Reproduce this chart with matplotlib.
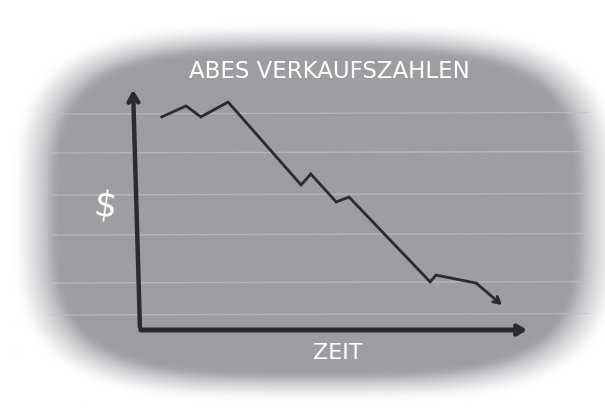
import numpy as np
import matplotlib
matplotlib.use("Agg")
import matplotlib.pyplot as plt

# ---- data (time units 0..10, sales units 0..10) ----
zeit = [0.56, 1.18, 1.56, 2.26, 4.13, 4.38, 5.03, 5.36, 7.44, 7.59, 8.62, 9.28]
umsatz = [8.77, 9.22, 8.77, 9.38, 5.97, 6.42, 5.27, 5.47, 1.98, 2.26, 1.93, 1.03]
title = "ABES VERKAUFSZAHLEN"
xlabel = "ZEIT"
ylabel = "$"
paper_lines_px = [114, 153, 195, 235, 283, 315]

W, H = 605, 408
fig = plt.figure(figsize=(W / 100, H / 100), dpi=100)

# ---- background (chalkboard blob) ----
yy, xx = np.mgrid[0:H, 0:W].astype(float)
cx, cy, a, b, p = 316.0, 212.0, 268.0, 166.0, 3.6
d = ((np.abs(xx - cx) / a) ** p + (np.abs(yy - cy) / b) ** p) ** (1 / p)
inner = np.array([157, 158, 162]) / 255.0
halo = np.array([200, 201, 204]) / 255.0
white = np.array([1.0, 1.0, 1.0])
t1 = np.clip((d - 0.97) / 0.05, 0, 1)[..., None]
col = inner * (1 - t1) + halo * t1
t2 = np.clip((d - 1.02) / 0.10, 0, 1)[..., None]
col = col * (1 - t2) + white * t2
# soften with a box blur
k = 5
pad = np.pad(col, ((k, k), (k, k), (0, 0)), mode="edge")
cs = pad.cumsum(0).cumsum(1)
cs = np.pad(cs, ((1, 0), (1, 0), (0, 0)))
n = 2 * k + 1
blur = (cs[n:, n:] - cs[:-n, n:] - cs[n:, :-n] + cs[:-n, :-n]) / (n * n)
blur = blur[:H, :W]

ax_bg = fig.add_axes([0, 0, 1, 1])
ax_bg.imshow(np.clip(blur, 0, 1), extent=[0, W, H, 0], interpolation="bilinear")
for yp in paper_lines_px:
    ax_bg.plot([52, 588], [yp, yp - 1.5], color="#bfc0c4", lw=1.0, alpha=0.7)
ax_bg.set_xlim(0, W)
ax_bg.set_ylim(H, 0)
ax_bg.axis("off")

# ---- chart axes ----
ax = fig.add_axes([140 / W, 78 / H, 390 / W, 243 / H])
ax.patch.set_alpha(0)
ax.set_xlim(0, 10)
ax.set_ylim(0, 10)
ax.axis("off")

ink = "#2b2b2d"
ax.annotate("", xy=(-0.18, 10.0), xytext=(0.0, 0.0),
            arrowprops=dict(arrowstyle="->,head_length=0.6,head_width=0.35",
                            color=ink, lw=3.2), annotation_clip=False)
ax.annotate("", xy=(10.0, 0.0), xytext=(-0.05, 0.0),
            arrowprops=dict(arrowstyle="->,head_length=0.5,head_width=0.3",
                            color=ink, lw=3.6), annotation_clip=False)

ax.plot(zeit[:-1], umsatz[:-1], color=ink, lw=2.0, solid_joinstyle="miter")
ax.annotate("", xy=(zeit[-1], umsatz[-1]), xytext=(zeit[-2], umsatz[-2]),
            arrowprops=dict(arrowstyle="->,head_length=0.45,head_width=0.25",
                            color=ink, lw=2.0, shrinkA=0, shrinkB=0))

# ---- texts ----
fig.text(329 / W, 1 - 72 / H, title, color="white", fontsize=16.5,
         ha="center", va="center", family="DejaVu Sans")
fig.text(338 / W, 1 - 353 / H, xlabel, color="white", fontsize=16,
         ha="center", va="center", family="DejaVu Sans")
fig.text(106 / W, 1 - 206 / H, ylabel, color="white", fontsize=26,
         ha="center", va="center", family="DejaVu Sans", rotation=-8)

fig.savefig("out.png", dpi=100)
